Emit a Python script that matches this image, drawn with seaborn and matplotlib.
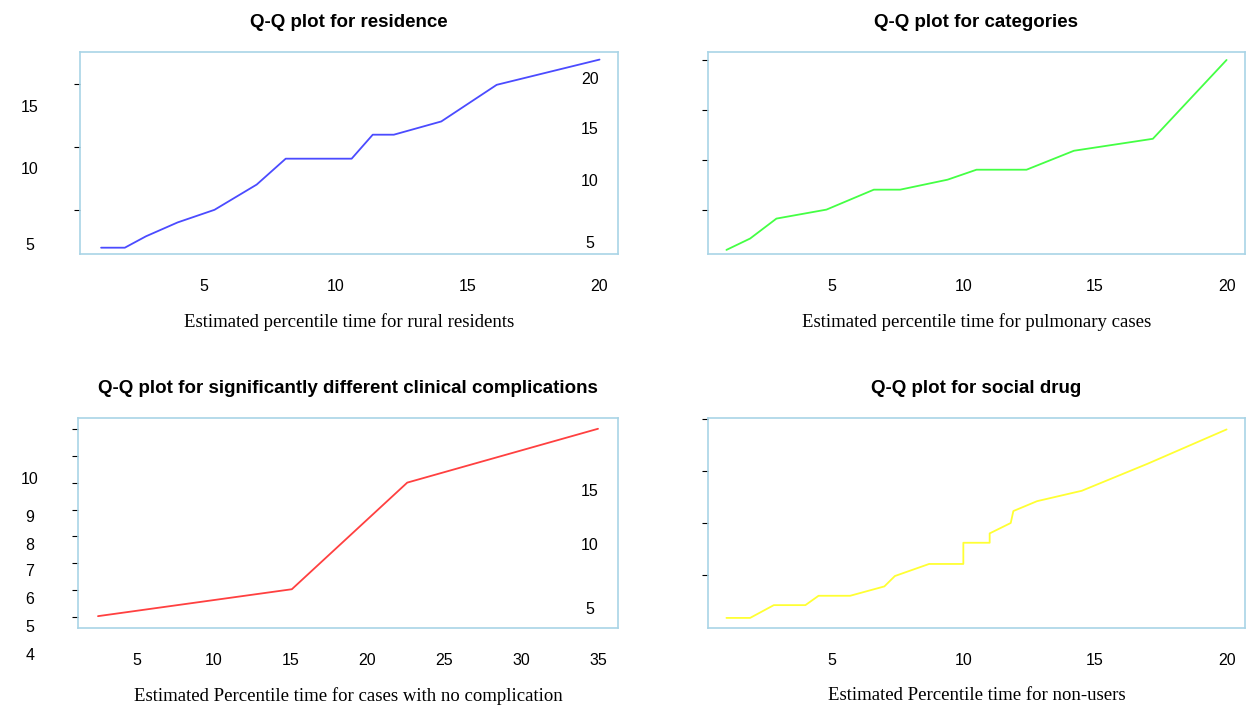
import matplotlib
matplotlib.use("Agg")
import matplotlib.pyplot as plt
import seaborn as sns
import pandas as pd

# panel data
res_x = [1.1, 2.0, 2.8, 4.0, 5.4, 7.0, 8.1, 10.6, 11.4, 12.2, 14.0, 16.1, 20.0]
res_y = [2.0, 2.0, 2.9, 4.0, 5.0, 7.0, 9.05, 9.05, 10.95, 10.95, 12.0, 14.9, 16.9]

cat_x = [1.0, 1.9, 2.9, 4.8, 6.6, 7.6, 9.4, 10.5, 12.4, 14.2, 15.2, 17.2, 20.0]
cat_y = [0.96, 2.1, 4.1, 5.0, 7.0, 7.0, 8.0, 9.0, 9.0, 10.9, 11.3, 12.1, 20.0]

comp_x = [2.5, 15.1, 22.6, 35.0]
comp_y = [4.04, 5.04, 9.0, 11.0]

drug_x = [1.0, 1.9, 2.8, 4.0, 4.5, 5.7, 7.0, 7.4, 8.7, 10.0, 10.0, 11.0, 11.0, 11.8, 11.9, 12.8, 14.5, 17.0, 20.0]
drug_y = [0.87, 0.87, 2.1, 2.1, 3.0, 3.0, 3.9, 4.9, 6.06, 6.06, 8.1, 8.1, 9.0, 10.0, 11.15, 12.1, 13.1, 15.7, 19.0]

frame = "#a9d4e6"
W, H = 1247, 707
sns.set_style("white")
plt.rcParams["font.family"] = ["Liberation Sans", "DejaVu Sans"]
plt.rcParams["text.color"] = "black"
plt.rcParams["axes.labelcolor"] = "black"
plt.rcParams["xtick.color"] = "black"
plt.rcParams["ytick.color"] = "black"
fig = plt.figure(figsize=(12.47, 7.07), dpi=100)

def px(x0, y0, x1, y1):
    return [x0 / W, 1 - y1 / H, (x1 - x0) / W, (y1 - y0) / H]

panels = [
    dict(rect=px(80, 52, 618, 254), x=res_x, y=res_y, c="#4b4bff", xl=(0.3, 20.7), yl=(1.5, 17.5),
         xt=[5, 10, 15, 20], yt=[5, 10, 15], title="Q-Q plot for residence",
         xlabel="Estimated percentile time for rural residents"),
    dict(rect=px(708, 52, 1245, 254), x=cat_x, y=cat_y, c="#44ff44", xl=(0.3, 20.7), yl=(0.55, 20.8),
         xt=[5, 10, 15, 20], yt=[5, 10, 15, 20], title="Q-Q plot for categories",
         xlabel="Estimated percentile time for pulmonary cases"),
    dict(rect=px(78, 418, 618, 628), x=comp_x, y=comp_y, c="#ff4040", xl=(1.2, 36.3), yl=(3.6, 11.4),
         xt=[5, 10, 15, 20, 25, 30, 35], yt=[4, 5, 6, 7, 8, 9, 10, 11],
         title="Q-Q plot for significantly different clinical complications",
         xlabel="Estimated Percentile time for cases with no complication"),
    dict(rect=px(708, 418, 1245, 628), x=drug_x, y=drug_y, c="#ffff33", xl=(0.3, 20.7), yl=(-0.1, 20.1),
         xt=[5, 10, 15, 20], yt=[5, 10, 15, 20], title="Q-Q plot for social drug",
         xlabel="Estimated Percentile time for non-users"),
]

for p in panels:
    ax = fig.add_axes(p["rect"])
    df = pd.DataFrame({"x": p["x"], "y": p["y"]})
    sns.lineplot(data=df, x="x", y="y", ax=ax, color=p["c"], lw=1.3, sort=False, estimator=None)
    ax.set_xlim(*p["xl"])
    ax.set_ylim(*p["yl"])
    ax.set_xticks(p["xt"])
    ax.set_yticks(p["yt"])
    ax.set_yticklabels([])
    ax.tick_params(axis="y", length=4, width=0.8, color="black", left=True)
    ax.tick_params(axis="x", length=0, labelsize=11.5, pad=18)
    for s in ax.spines.values():
        s.set_color(frame)
        s.set_linewidth(1.2)
    ax.set_ylabel("")
    ax.set_xlabel(p["xlabel"], family="Liberation Serif", fontsize=13.5, labelpad=14)
    ax.set_title(p["title"], fontweight="bold", fontsize=13.5, pad=18)

# displaced y tick labels as they appear in the reference
ylabels = [
    (30, 108, "15"), (30, 170, "10"), (30, 245, "5"),
    (590, 80, "20"), (590, 130, "15"), (590, 182, "10"), (590, 243, "5"),
    (30, 480, "10"), (30, 518, "9"), (30, 545, "8"), (30, 572, "7"),
    (30, 599, "6"), (30, 627, "5"), (30, 655, "4"),
    (590, 491, "15"), (590, 546, "10"), (590, 610, "5"),
]
for x, y, t in ylabels:
    fig.text(x / W, 1 - y / H, t, ha="center", va="center", fontsize=11.5)

fig.savefig("out.png", dpi=100)
